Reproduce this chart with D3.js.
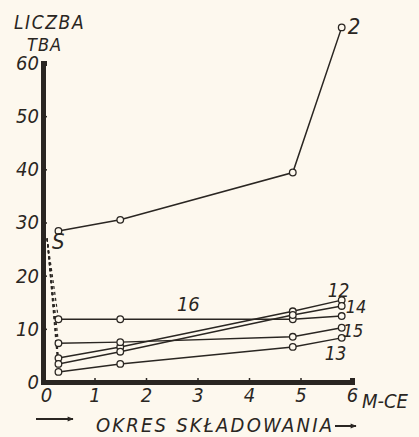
<!DOCTYPE html>
<html>
<head>
<meta charset="utf-8">
<script src="https://cdn.jsdelivr.net/npm/d3@7"></script>
<style>
  html, body { margin: 0; padding: 0; background: #fdf8ee; }
  svg { display: block; }
  text { font-family: "Liberation Sans Narrow", "DejaVu Sans Condensed", "Liberation Sans", sans-serif; font-style: italic; fill: #2a2622; }
</style>
</head>
<body>
<svg id="chart" width="419" height="437"></svg>
<script>
// Storage time (months) at which samples were measured
const months = [0.3, 1.5, 4.85, 5.8];

// TBA number for each sample series
const seriesNames = ["2", "16", "12", "14", "15", "13"];
const s2  = [28.4, 30.5, 39.4, 66.7];
const s16 = [11.8, 11.8, 11.8, 12.4];
const s12 = [4.5, 6.6, 13.3, 15.4];
const s14 = [3.4, 5.7, 12.6, 14.3];
const s15 = [7.3, 7.5, 8.5, 10.2];
const s13 = [1.9, 3.4, 6.6, 8.3];
const seriesValues = [s2, s16, s12, s14, s15, s13];

// Starting point "S" (fresh material) from which the early drop is drawn
const startPoint = { month: 0.08, value: 27 };

const xTicks = [0, 1, 2, 3, 4, 5, 6];
const yTicks = [0, 10, 20, 30, 40, 50, 60];

const svg = d3.select("#chart");
const ink = "#2a2622";

const defs = svg.append("defs");
defs.append("marker").attr("id", "head").attr("viewBox", "0 0 10 10")
  .attr("refX", 9).attr("refY", 5).attr("markerWidth", 7).attr("markerHeight", 6)
  .attr("orient", "auto").attr("markerUnits", "userSpaceOnUse")
  .append("path").attr("d", "M0,1 L10,5 L0,9 Z").attr("fill", ink);

const x = d3.scaleLinear().domain([0, 6]).range([43, 352]);
const y = d3.scaleLinear().domain([0, 60]).range([382, 63]);

// Dashed drop from S to the first measurement of the lower series
const lower = seriesValues.slice(1);
svg.append("g").selectAll("line").data(lower).join("line")
  .attr("x1", x(startPoint.month)).attr("y1", y(startPoint.value))
  .attr("x2", d => x(months[0])).attr("y2", d => y(d[0]))
  .attr("stroke", ink).attr("stroke-width", 1.2)
  .attr("stroke-dasharray", "3,3");

// Series lines
const line = d3.line().x((d, i) => x(months[i])).y(d => y(d));
svg.append("g").selectAll("path").data(seriesValues).join("path")
  .attr("d", d => line(d))
  .attr("fill", "none").attr("stroke", ink).attr("stroke-width", 1.5);

// Axes
const tickFont = g => g.attr("font-size", 20).attr("fill", ink)
  .style("font-family", "'Liberation Sans Narrow', 'DejaVu Sans Condensed', sans-serif")
  .style("font-style", "italic");

const yAxis = d3.axisLeft(y).tickValues(yTicks).tickSize(-4).tickPadding(4)
  .tickFormat(d3.format("d"));
const gy = svg.append("g").attr("transform", `translate(${x(0)},0)`).call(yAxis);
gy.select(".domain").attr("stroke", ink).attr("stroke-width", 5);
gy.selectAll(".tick line").attr("stroke", ink).attr("stroke-width", 1.5);
gy.selectAll(".tick text").call(tickFont);

const xAxis = d3.axisBottom(x).tickValues(xTicks).tickSize(-4).tickPadding(6)
  .tickFormat(d3.format("d"));
const gx = svg.append("g").attr("transform", `translate(0,${y(0)})`).call(xAxis);
gx.select(".domain").attr("stroke", ink).attr("stroke-width", 5);
gx.selectAll(".tick line").attr("stroke", ink).attr("stroke-width", 1.5);
gx.selectAll(".tick text").call(tickFont);
gx.selectAll(".tick").filter(d => d === 0).select("text").attr("dx", 3);

// Measurement markers
const pts = [];
seriesValues.forEach(vals => vals.forEach((v, i) => pts.push([months[i], v])));
svg.append("g").selectAll("circle").data(pts).join("circle")
  .attr("cx", d => x(d[0])).attr("cy", d => y(d[1])).attr("r", 3.3)
  .attr("fill", "#fdf8ee").attr("stroke", ink).attr("stroke-width", 1.3);

// Series labels
const labelPos = [
  { name: "2",  at: [5.8, 66.7], dx: 6,  dy: 7,  size: 22 },
  { name: "16", at: [2.6, 11.8], dx: 0,  dy: -8, size: 20 },
  { name: "12", at: [5.8, 15.4], dx: -14, dy: -3, size: 19 },
  { name: "14", at: [5.8, 14.3], dx: 4,  dy: 7,  size: 18 },
  { name: "15", at: [5.8, 10.2], dx: 1,  dy: 9,  size: 18 },
  { name: "13", at: [5.8, 8.3],  dx: -17, dy: 22, size: 19 }
];
svg.append("g").selectAll("text").data(labelPos).join("text")
  .attr("x", d => x(d.at[0]) + d.dx).attr("y", d => y(d.at[1]) + d.dy)
  .attr("font-size", d => d.size).text(d => d.name);

svg.append("text").attr("x", x(startPoint.month) + 5).attr("y", y(startPoint.value) + 11)
  .attr("font-size", 22).text("S");

// Titles
svg.append("text").attr("x", 14).attr("y", 29).attr("font-size", 19)
  .attr("letter-spacing", 1.6).text("LICZBA");
svg.append("text").attr("x", 27).attr("y", 51).attr("font-size", 18)
  .attr("letter-spacing", 1).text("TBA");
svg.append("text").attr("x", 362).attr("y", 408).attr("font-size", 20).text("M-CE");

// Direction arrows along the time axis
svg.append("line").attr("x1", 36).attr("y1", 419).attr("x2", 73).attr("y2", 419)
  .attr("stroke", ink).attr("stroke-width", 2).attr("marker-end", "url(#head)");
svg.append("text").attr("x", 96).attr("y", 432).attr("font-size", 20)
  .attr("letter-spacing", 2.2).text("OKRES  SKŁADOWANIA");
svg.append("line").attr("x1", 335).attr("y1", 426).attr("x2", 356).attr("y2", 426)
  .attr("stroke", ink).attr("stroke-width", 2).attr("marker-end", "url(#head)");
</script>
</body>
</html>
